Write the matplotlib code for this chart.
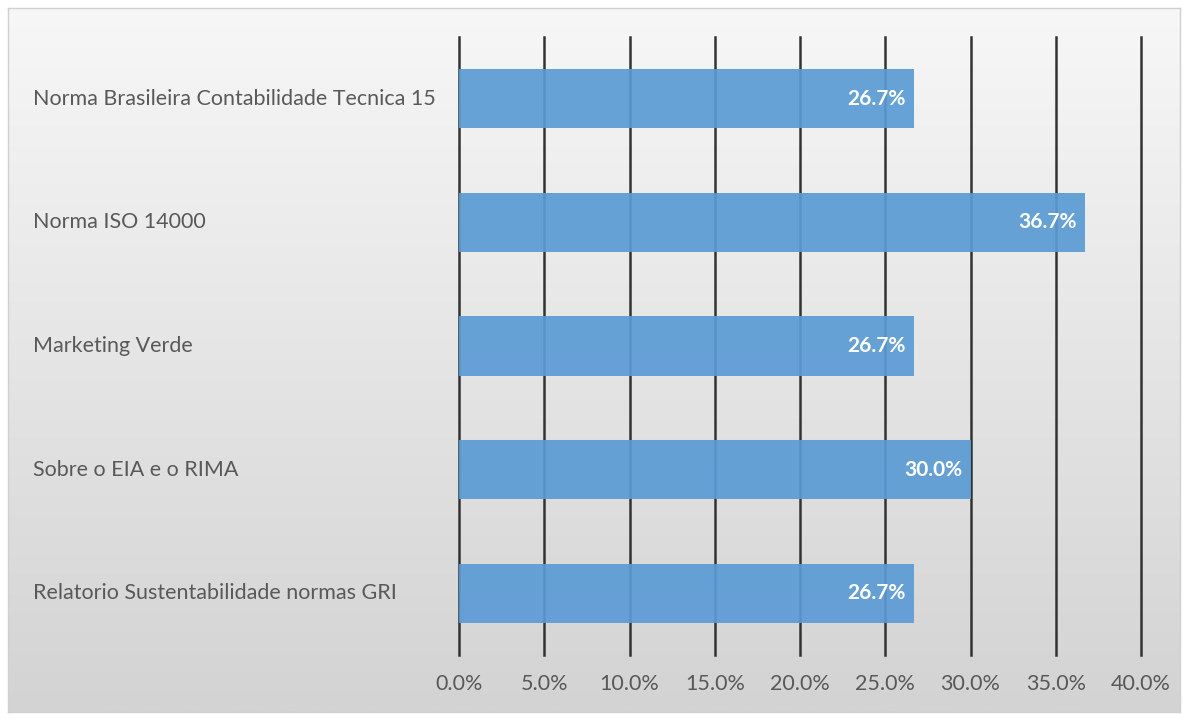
import numpy as np
import matplotlib
matplotlib.use("Agg")
import matplotlib.pyplot as plt
from matplotlib.transforms import blended_transform_factory
from matplotlib.colors import LinearSegmentedColormap

categories = [
    "Relatorio Sustentabilidade normas GRI",
    "Sobre o EIA e o RIMA",
    "Marketing Verde",
    "Norma ISO 14000",
    "Norma Brasileira Contabilidade Tecnica 15",
]
values = [26.7, 30.0, 26.7, 36.7, 26.7]
xticks = [0, 5, 10, 15, 20, 25, 30, 35, 40]
xtick_labels = [f"{t:.1f}%" for t in xticks]

plt.rcParams["font.family"] = ["Lato", "DejaVu Sans"]

W, H = 1186, 720
fig = plt.figure(figsize=(W / 100, H / 100), dpi=100)
fig.patch.set_facecolor("white")

# chart area with vertical gray gradient
bg = fig.add_axes([8 / W, 8 / H, (1180 - 8) / W, (712 - 8) / H])
grad = np.linspace(0, 1, 256).reshape(-1, 1)
cmap = LinearSegmentedColormap.from_list("bg", ["#f7f7f7", "#d3d3d3"])
bg.imshow(grad, aspect="auto", cmap=cmap, extent=[0, 1, 0, 1], origin="upper")
bg.set_xlim(0, 1)
bg.set_ylim(0, 1)
bg.set_xticks([])
bg.set_yticks([])
for s in bg.spines.values():
    s.set_color("#d0d0d0")
    s.set_linewidth(1)
bg.set_zorder(0)

ax = fig.add_axes([459 / W, 1 - 655 / H, (1141 - 459) / W, (655 - 37) / H])
ax.patch.set_alpha(0)
ax.set_zorder(1)

y = np.arange(len(categories))
ax.set_xlim(0, 40)
ax.set_ylim(-0.5, len(categories) - 0.5)

for t in xticks:
    ax.axvline(t, color="#333333", linewidth=1.8, zorder=1, clip_on=False)

bars = ax.barh(y, values, height=0.48, color="#5b9bd5", alpha=0.92, zorder=2)

for b, v in zip(bars, values):
    ax.annotate(f"{v:.1f}%", xy=(v, b.get_y() + b.get_height() / 2),
                xytext=(-6, 0), textcoords="offset points",
                ha="right", va="center", color="white",
                fontsize=15, fontweight="bold", zorder=3)

ax.set_xticks(xticks)
ax.set_xticklabels(xtick_labels, fontsize=15.5, color="#595959")
ax.tick_params(axis="x", length=0, pad=14)
ax.set_yticks([])
for s in ax.spines.values():
    s.set_visible(False)

trans = blended_transform_factory(fig.transFigure, ax.transData)
for yi, c in zip(y, categories):
    ax.text(33 / W, yi, c, transform=trans, ha="left", va="center",
            fontsize=15.5, color="#595959")

fig.savefig("out.png", dpi=100, facecolor=fig.get_facecolor())
